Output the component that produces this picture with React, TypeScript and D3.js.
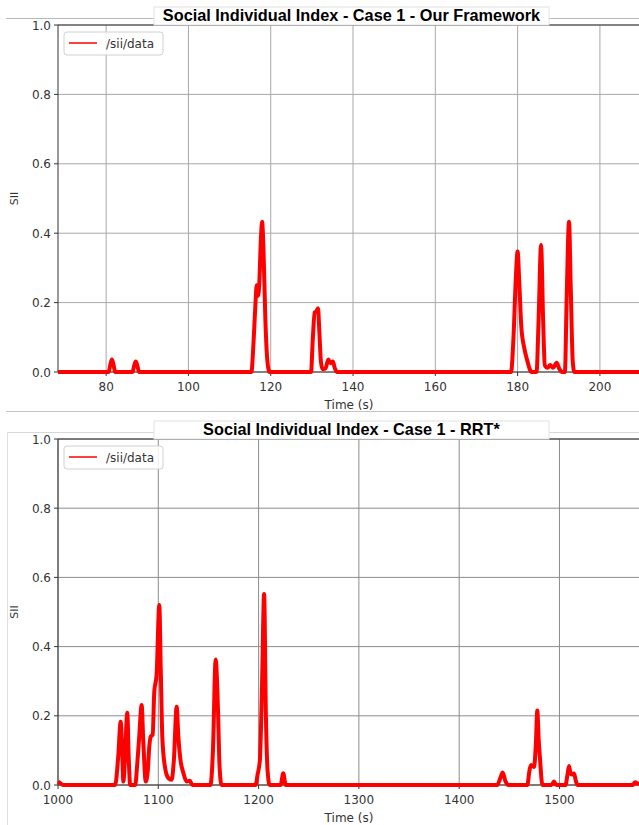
import * as d3 from 'd3';

// Case 1 - Our Framework (time in s, SII)
const frameworkTime = [
	68.3, 80.6, 81.0, 81.4, 81.8, 82.2, 86.4, 86.8, 87.2, 87.6, 88.0, 115.3, 115.8, 116.3, 116.6, 116.9, 117.2, 117.6,
	117.9, 118.2, 118.7, 119.2, 119.7, 129.8, 130.2, 130.7, 131.1, 131.5, 131.8, 132.2, 132.6, 133.3, 134.0, 134.5, 135.1,
	135.6, 136.1, 178.4, 179.0, 179.6, 180.0, 180.4, 180.9, 181.6, 182.3, 183.4, 184.6, 185.1, 185.7, 186.2, 186.6, 187.3,
	187.9, 188.6, 189.5, 190.1, 190.8, 191.5, 191.9, 192.5, 192.9, 193.4, 193.8, 209.5,
];
const frameworkSii = [
	0, 0, 0.02, 0.036, 0.02, 0, 0, 0.018, 0.03, 0.018, 0, 0, 0.08, 0.2, 0.25, 0.22, 0.25, 0.38, 0.433, 0.37, 0.15, 0.03, 0,
	0, 0.09, 0.172, 0.175, 0.184, 0.12, 0.03, 0.008, 0.01, 0.036, 0.025, 0.03, 0.01, 0, 0, 0.1, 0.28, 0.347, 0.26, 0.13,
	0.07, 0.035, 0, 0, 0.15, 0.366, 0.15, 0.02, 0.012, 0.02, 0.012, 0.027, 0.01, 0, 0, 0.2, 0.433, 0.25, 0.03, 0, 0,
];

// Case 1 - RRT*
const rrtTime = [
	1000, 1002, 1005, 1057, 1060, 1062.5, 1064, 1065.2, 1066.5, 1069.1, 1070.5, 1072, 1077, 1079, 1081, 1083.4, 1085,
	1087.5, 1089.5, 1091, 1092.5, 1094.4, 1096, 1098.3, 1101, 1102.5, 1104, 1106.6, 1110, 1113.3, 1115.5, 1118.3, 1120,
	1122, 1125, 1128.2, 1131.5, 1134, 1152, 1154.5, 1157.2, 1159.5, 1161, 1163, 1197, 1199, 1201.3, 1203.5, 1205.5, 1207.3,
	1209, 1211, 1222, 1224.6, 1227, 1438, 1441, 1443.4, 1446, 1449, 1468, 1470, 1471.6, 1474.6, 1476.5, 1477.9, 1479.3,
	1480.5, 1483, 1492, 1494.5, 1497, 1506, 1508, 1509.5, 1511, 1512.5, 1514.5, 1516.5, 1518, 1573, 1575.5, 1578, 1579.3,
];
const rrtSii = [
	0.01, 0.006, 0, 0, 0.08, 0.183, 0.1, 0.01, 0.06, 0.209, 0.08, 0, 0, 0.06, 0.14, 0.231, 0.13, 0.01, 0.04, 0.11, 0.14,
	0.145, 0.27, 0.318, 0.52, 0.33, 0.14, 0.053, 0.02, 0.015, 0.07, 0.226, 0.14, 0.075, 0.035, 0.01, 0.012, 0, 0, 0.1,
	0.363, 0.22, 0.06, 0, 0, 0.03, 0.072, 0.3, 0.552, 0.2, 0.04, 0, 0, 0.034, 0, 0, 0.02, 0.036, 0.012, 0, 0, 0.04, 0.058,
	0.052, 0.12, 0.215, 0.13, 0.08, 0, 0, 0.01, 0, 0, 0.03, 0.055, 0.035, 0.03, 0.033, 0.01, 0, 0, 0.008, 0.004, 0.004,
];

const frameworkTicks = [80, 100, 120, 140, 160, 180, 200];
const rrtTicks = [1000, 1100, 1200, 1300, 1400, 1500];
const yTicks = [0, 0.2, 0.4, 0.6, 0.8, 1.0];

const W = 639;
const H = 825;
const left = 58;
const tickFont = 'DejaVu Sans, sans-serif';

interface PanelProps {
	title: string;
	time: number[];
	sii: number[];
	domain: [number, number];
	xTicks: number[];
	top: number;
	bottom: number;
	gridColor: string;
}

const Panel = ({ title, time, sii, domain, xTicks, top, bottom, gridColor }: PanelProps) => {
	const x = d3.scaleLinear().domain(domain).range([left, W]);
	const y = d3.scaleLinear().domain([0, 1]).range([bottom, top]);
	const pts = time.map((t, i) => [t, sii[i]] as [number, number]);
	const line = d3
		.line<[number, number]>()
		.x((d) => x(d[0]))
		.y((d) => y(d[1]))
		.curve(d3.curveMonotoneX);

	return (
		<g>
			{/* grid */}
			{yTicks.map((v) => (
				<line key={'gy' + v} x1={left} x2={W} y1={y(v)} y2={y(v)} stroke={gridColor} strokeWidth={1} />
			))}
			{xTicks.map((v) => (
				<line key={'gx' + v} x1={x(v)} x2={x(v)} y1={top} y2={bottom} stroke={gridColor} strokeWidth={1} />
			))}
			{/* spines */}
			<line x1={left} x2={W} y1={top} y2={top} stroke="#333" />
			<line x1={left} x2={W} y1={bottom} y2={bottom} stroke="#333" />
			<line x1={left} x2={left} y1={top} y2={bottom} stroke="#333" />
			{/* y ticks */}
			{yTicks.map((v) => (
				<g key={'ty' + v}>
					<line x1={left - 4} x2={left} y1={y(v)} y2={y(v)} stroke="#333" />
					<text
						x={left - 7}
						y={y(v) + 4.5}
						textAnchor="end"
						fontFamily={tickFont}
						fontSize={12}
						fill="#333"
					>
						{v.toFixed(1)}
					</text>
				</g>
			))}
			{/* x ticks */}
			{xTicks.map((v) => (
				<g key={'tx' + v}>
					<line x1={x(v)} x2={x(v)} y1={bottom} y2={bottom + 4} stroke="#333" />
					<text x={x(v)} y={bottom + 19} textAnchor="middle" fontFamily={tickFont} fontSize={12} fill="#333">
						{v}
					</text>
				</g>
			))}
			<text x={349} y={bottom + 37} textAnchor="middle" fontFamily={tickFont} fontSize={12} fill="#333">
				Time (s)
			</text>
			<text
				transform={`translate(18,${(top + bottom) / 2}) rotate(-90)`}
				textAnchor="middle"
				fontFamily={tickFont}
				fontSize={11}
				fill="#333"
			>
				SII
			</text>
			{/* data */}
			<path d={line(pts) || ''} fill="none" stroke="#ff0000" strokeWidth={4} strokeLinejoin="round" />
			{/* legend */}
			<rect x={64} y={top + 7} width={99} height={23} rx={3} fill="#fff" fillOpacity={0.85} stroke="#d0d0d0" />
			<line x1={69} x2={97} y1={top + 18} y2={top + 18} stroke="#ff0000" strokeWidth={1.5} />
			<text x={106} y={top + 22.5} fontFamily={tickFont} fontSize={12} fill="#333">
				/sii/data
			</text>
			{/* title */}
			<rect x={154} y={top - 18} width={395} height={18} fill="#fff" stroke="#e2e2e2" />
			<text
				x={351.5}
				y={top - 4}
				textAnchor="middle"
				fontFamily="Liberation Sans, Arial, sans-serif"
				fontWeight="bold"
				fontSize={16.3}
				fill="#000"
			>
				{title}
			</text>
		</g>
	);
};

export default function App() {
	return (
		<svg width={W} height={H} style={{ position: 'absolute', left: 0, top: 0, background: '#fff' }}>
			<rect width={W} height={H} fill="#fff" />
			{/* screenshot frame lines */}
			<line x1={6} x2={W} y1={18.5} y2={18.5} stroke="#b8b8b8" />
			<line x1={6} x2={W} y1={411.5} y2={411.5} stroke="#c4c4c4" />
			<line x1={7} x2={W} y1={432.5} y2={432.5} stroke="#d8d8d8" />
			<line x1={7.5} x2={7.5} y1={432.5} y2={H} stroke="#e0e0e0" />
			<Panel
				title="Social Individual Index - Case 1 - Our Framework"
				time={frameworkTime}
				sii={frameworkSii}
				domain={[68.3, 209.5]}
				xTicks={frameworkTicks}
				top={25}
				bottom={372}
				gridColor="#a8a8a8"
			/>
			<Panel
				title="Social Individual Index - Case 1 - RRT*"
				time={rrtTime}
				sii={rrtSii}
				domain={[1000, 1579.3]}
				xTicks={rrtTicks}
				top={439}
				bottom={785}
				gridColor="#8c8c8c"
			/>
		</svg>
	);
}
